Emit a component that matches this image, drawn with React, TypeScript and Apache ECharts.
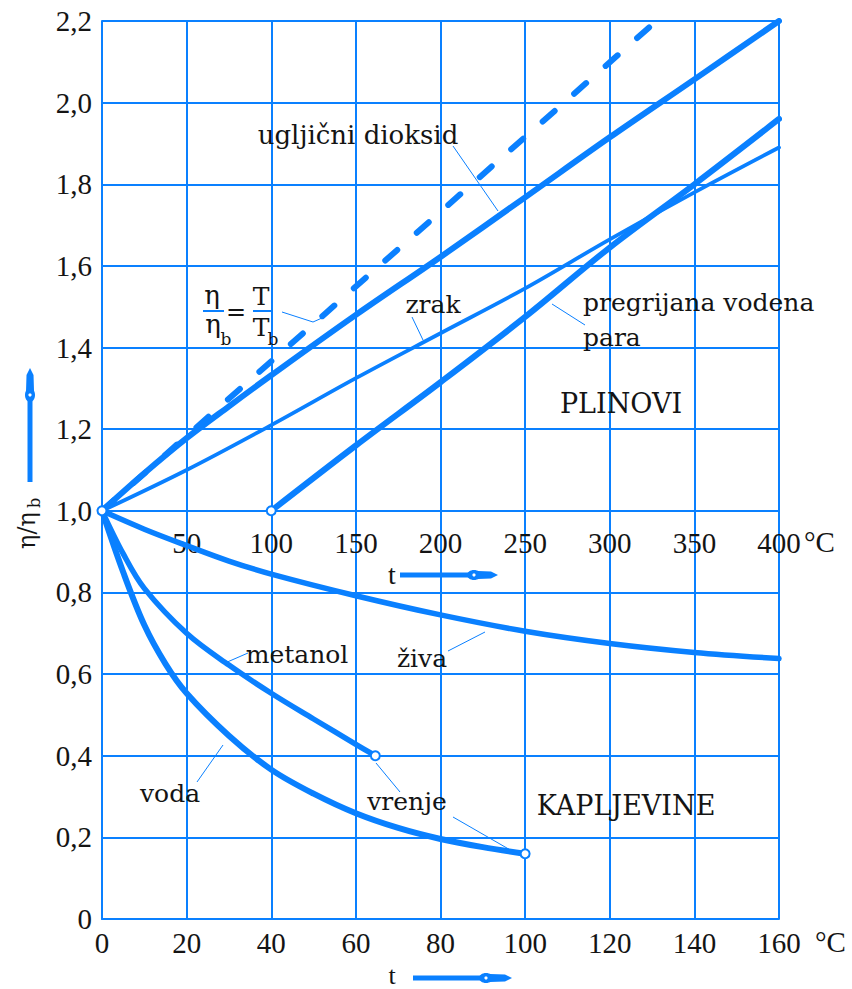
import React, { useEffect, useRef } from 'react';
import * as echarts from 'echarts';

const BLUE = '#0a80ff';
const INK = '#141414';
const NUM_FONT = '"Liberation Serif", "Times New Roman", serif';
const LABEL_FONT = '"DejaVu Serif", "Liberation Serif", serif';

// ---- Gases (upper scale t = 0 … 400 °C) ----
const co2T = [0, 25, 50, 75, 100, 150, 200, 250, 300, 350, 400];
const co2Eta = [1.0, 1.092, 1.178, 1.256, 1.332, 1.48, 1.622, 1.768, 1.915, 2.057, 2.2];
const airT = [0, 50, 100, 150, 200, 250, 300, 350, 400];
const airEta = [1.0, 1.1, 1.21, 1.325, 1.435, 1.545, 1.665, 1.78, 1.89];
const steamT = [100, 150, 200, 250, 300, 350, 400];
const steamEta = [1.0, 1.16, 1.315, 1.475, 1.645, 1.8, 1.96];
const idealT = [0, 327.6];
const idealEta = [1.0, 2.2];

// ---- Liquids (lower scale t = 0 … 160 °C) ----
const mercuryT = [0, 10, 20, 30, 40, 60, 80, 100, 120, 140, 160];
const mercuryEta = [1.0, 0.955, 0.915, 0.877, 0.845, 0.792, 0.745, 0.705, 0.675, 0.653, 0.638];
const methanolT = [0, 5, 10, 20, 30, 40, 50, 60, 64.6];
const methanolEta = [1.0, 0.895, 0.81, 0.7, 0.622, 0.553, 0.49, 0.428, 0.4];
const waterT = [0, 5, 10, 15, 20, 30, 40, 50, 60, 70, 80, 90, 100];
const waterEta = [1.0, 0.85, 0.72, 0.625, 0.553, 0.449, 0.366, 0.307, 0.259, 0.223, 0.196, 0.176, 0.16];

// ---- Axis ticks ----
const liquidTicks = { min: 0, max: 160, interval: 20 };
const gasTicks = { min: 0, max: 400, interval: 50 };
const etaTicks = { min: 0, max: 2.2, interval: 0.2 };

const zip = (xs: number[], ys: number[]) => xs.map((x, i) => [x, ys[i]]);
const last = (a: number[]) => a[a.length - 1];

const txt = (text: string, x: number, y: number, size = 25, align = 'center', family = LABEL_FONT) => ({
  type: 'text',
  x,
  y,
  z: 100,
  style: {
    text,
    fill: INK,
    fontSize: size,
    fontFamily: family,
    textAlign: align,
    textVerticalAlign: 'middle',
    verticalAlign: 'middle',
  },
});
const ln = (x1: number, y1: number, x2: number, y2: number, w = 1) => ({
  type: 'line',
  z: 100,
  shape: { x1, y1, x2, y2 },
  style: { stroke: BLUE, lineWidth: w },
});

const arrowH = (x0: number, xb: number, xt: number, y: number) => [
  ln(x0, y, xb, y, 5),
  { type: 'ellipse', z: 100, shape: { cx: xb, cy: y, rx: 7, ry: 5 }, style: { fill: BLUE } },
  { type: 'circle', z: 101, shape: { cx: xb, cy: y, r: 1.6 }, style: { fill: '#fff' } },
  {
    type: 'polygon',
    z: 100,
    shape: { points: [[xb + 4, y - 4], [xt - 7, y - 3.5], [xt, y], [xt - 7, y + 3.5], [xb + 4, y + 4]] },
    style: { fill: BLUE },
  },
];
const arrowV = (x: number, y0: number, yb: number, yt: number) => [
  ln(x, y0, x, yb, 5),
  { type: 'ellipse', z: 100, shape: { cx: x, cy: yb, rx: 5, ry: 7 }, style: { fill: BLUE } },
  { type: 'circle', z: 101, shape: { cx: x, cy: yb, r: 1.6 }, style: { fill: '#fff' } },
  {
    type: 'polygon',
    z: 100,
    shape: { points: [[x - 4, yb - 4], [x - 3.5, yt + 7], [x, yt], [x + 3.5, yt + 7], [x + 4, yb - 4]] },
    style: { fill: BLUE },
  },
];

export default function App() {
  const ref = useRef<HTMLDivElement>(null);
  useEffect(() => {
    const chart = echarts.init(ref.current as HTMLDivElement, null, { renderer: 'svg' });
    const thick = (w: number) => ({ color: BLUE, width: w, cap: 'round', join: 'round' });
    const curve = (name: string, axis: number, xs: number[], ys: number[], w: number) => ({
      name,
      type: 'line',
      xAxisIndex: axis,
      data: zip(xs, ys),
      smooth: 0.35,
      symbol: 'none',
      lineStyle: thick(w),
    });
    const option: any = {
      animation: false,
      backgroundColor: '#fff',
      grid: { left: 102, right: 73, top: 21, bottom: 70, containLabel: false },
      xAxis: [
        {
          type: 'value',
          ...liquidTicks,
          position: 'bottom',
          axisLine: { show: true, onZero: false, lineStyle: { color: BLUE, width: 2 } },
          axisTick: { show: false },
          splitLine: { show: true, lineStyle: { color: BLUE, width: 2 } },
          axisLabel: { margin: 9, color: INK, fontFamily: NUM_FONT, fontSize: 29 },
        },
        {
          type: 'value',
          ...gasTicks,
          position: 'bottom',
          offset: -402,
          axisLine: { show: false, onZero: false },
          axisTick: { show: false },
          splitLine: { show: false },
          axisLabel: {
            margin: 11,
            color: INK,
            fontFamily: NUM_FONT,
            fontSize: 29,
            formatter: (v: number) => (v === 0 ? '' : String(v)),
          },
        },
      ],
      yAxis: {
        type: 'value',
        ...etaTicks,
        axisLine: { show: true, onZero: false, lineStyle: { color: BLUE, width: 2 } },
        axisTick: { show: false },
        splitLine: { show: true, lineStyle: { color: BLUE, width: 2 } },
        axisLabel: {
          margin: 10,
          color: INK,
          fontFamily: NUM_FONT,
          fontSize: 29,
          formatter: (v: number) => (Math.abs(v) < 1e-9 ? '0' : v.toFixed(1).replace('.', ',')),
        },
      },
      series: [
        curve('ugljični dioksid', 1, co2T, co2Eta, 6),
        curve('zrak', 1, airT, airEta, 3.8),
        curve('pregrijana vodena para', 1, steamT, steamEta, 6),
        {
          name: 'η/ηb = T/Tb',
          type: 'line',
          xAxisIndex: 1,
          data: zip(idealT, idealEta),
          symbol: 'none',
          lineStyle: { color: BLUE, width: 6, type: [16, 26], cap: 'round' },
        },
        curve('živa', 0, mercuryT, mercuryEta, 5.5),
        curve('metanol', 0, methanolT, methanolEta, 5.5),
        curve('voda', 0, waterT, waterEta, 6),
        {
          name: 'open-gas',
          type: 'scatter',
          xAxisIndex: 1,
          z: 10,
          symbol: 'circle',
          symbolSize: 9,
          itemStyle: { color: '#fff', borderColor: BLUE, borderWidth: 2, opacity: 1 },
          data: [[co2T[0], co2Eta[0]], [steamT[0], steamEta[0]]],
        },
        {
          name: 'open-liquid',
          type: 'scatter',
          xAxisIndex: 0,
          z: 10,
          symbol: 'circle',
          symbolSize: 9,
          itemStyle: { color: '#fff', borderColor: BLUE, borderWidth: 2, opacity: 1 },
          data: [[last(methanolT), last(methanolEta)], [last(waterT), last(waterEta)]],
        },
      ],
      graphic: [
        // unit labels
        txt('°C', 804, 542, 29, 'left', NUM_FONT),
        txt('°C', 815, 942, 29, 'left', NUM_FONT),
        // t arrows
        txt('t', 392, 574, 28, 'center', NUM_FONT),
        ...arrowH(400, 474, 498, 575),
        txt('t', 392, 975, 26, 'center', NUM_FONT),
        ...arrowH(413, 486, 512, 978),
        // y title
        {
          type: 'group',
          x: 27,
          y: 549,
          rotation: Math.PI / 2,
          children: [
            { type: 'text', x: 0, y: 0, style: { text: 'η/η', fill: INK, fontSize: 24, fontFamily: LABEL_FONT, textAlign: 'left', textVerticalAlign: 'middle', verticalAlign: 'middle' } },
            { type: 'text', x: 41, y: 7, style: { text: 'b', fill: INK, fontSize: 16, fontFamily: LABEL_FONT, textAlign: 'left', textVerticalAlign: 'middle', verticalAlign: 'middle' } },
          ],
        },
        ...arrowV(30, 482, 395, 368),
        // formula
        txt('η', 212, 295, 26),
        ln(203, 311, 224, 311, 2),
        txt('η', 213, 324, 26),
        txt('b', 226, 339, 17),
        txt('=', 236, 312, 24),
        txt('T', 261, 296, 25),
        ln(253, 311, 273, 311, 2),
        txt('T', 261, 327, 25),
        txt('b', 273, 339, 17),
        { type: 'polyline', z: 100, shape: { points: [[282, 312], [313, 322], [322, 318]] }, style: { stroke: BLUE, lineWidth: 1, fill: 'none' } },
        // gas labels
        txt('ugljični dioksid', 358, 135, 26),
        ln(453, 146, 498, 211),
        txt('zrak', 433, 304),
        ln(412, 317, 423, 340),
        txt('pregrijana vodena', 583, 302, 25, 'left'),
        txt('para', 583, 337, 25, 'left'),
        ln(552, 304, 585, 325),
        txt('PLINOVI', 621, 403, 27),
        // liquid labels
        txt('živa', 422, 658),
        ln(448, 651, 485, 632),
        txt('metanol', 297, 654),
        ln(248, 653, 225, 663),
        txt('voda', 170, 793),
        ln(197, 782, 223, 745),
        txt('vrenje', 407, 801),
        ln(400, 792, 376, 763),
        ln(453, 817, 519, 855),
        txt('KAPLJEVINE', 626, 805, 27),
      ],
    };
    chart.setOption(option);
    return () => chart.dispose();
  }, []);
  return (
    <div
      ref={ref}
      style={{ position: 'absolute', left: 0, top: 0, width: 852, height: 989, background: '#fff' }}
    />
  );
}
